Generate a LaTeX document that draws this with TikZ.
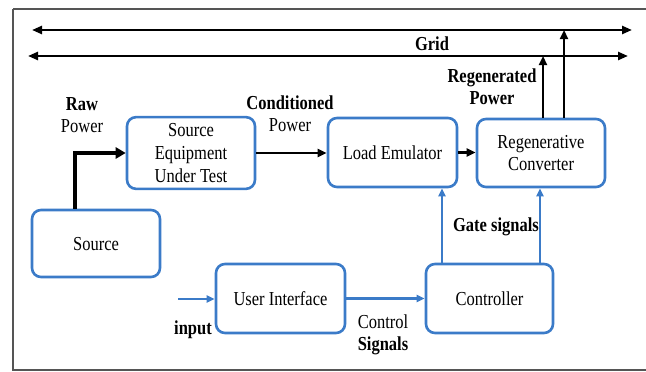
\documentclass[tikz,border=0pt]{standalone}
\usepackage{fontspec}
\setmainfont{Liberation Serif}
\usetikzlibrary{arrows.meta,calc}
\definecolor{boxblue}{HTML}{3B7BC8}
\definecolor{framegray}{HTML}{555555}
\newcommand{\tx}[1]{\raisebox{0pt}[\dimexpr\height+2pt\relax][\dimexpr\depth-2pt\relax]{\scalebox{1}[1.2]{\begin{tabular}{@{}c@{}}#1\end{tabular}}}}
\begin{document}
\begin{tikzpicture}[x=1pt,y=-1pt,
  font=\fontsize{16.5}{18.8}\selectfont,
  blk/.style={draw=boxblue,line width=2.6pt,rounded corners=9pt,inner sep=2pt},
  pw/.style={draw=black,line width=2.4pt,-{Triangle[length=9pt,width=8pt]}},
  raw/.style={draw=black,line width=4pt,-{Triangle[length=10pt,width=11pt]}},
  grid/.style={draw=black,line width=2.4pt,{Triangle[length=10pt,width=8pt]}-{Triangle[length=10pt,width=8pt]}},
  sig/.style={draw=boxblue,line width=2.2pt,-{Triangle[length=8pt,width=7pt]}},
  lbl/.style={inner sep=0pt}]
\useasboundingbox (0,0) rectangle (646,372);
\draw[framegray,line width=2pt] (13,9) -- (13,370) -- (660,370);
\draw[framegray,line width=1.2pt] (13,9) -- (660,9);

% grid lines
\coordinate (g1l) at (32,30);
\coordinate (g1r) at (632,30);
\coordinate (g2l) at (28,56);
\coordinate (g2r) at (628,56);
\draw[grid] (g1l) -- (g1r);
\draw[grid] (g2l) -- (g2r);
\node[lbl] (gridlbl) at (432,44) {\tx{\textbf{Grid}}};

% blocks
\node[blk,minimum width=128pt,minimum height=68pt] (seut) at (191,153) {\tx{Source\\Equipment\\Under Test}};
\node[blk,minimum width=128pt,minimum height=67pt] (src) at (96,243.5) {\tx{Source}};
\node[blk,minimum width=129pt,minimum height=69pt] (load) at (392.5,152.5) {\tx{Load Emulator}};
\node[blk,minimum width=128pt,minimum height=68pt] (regen) at (541,153) {\tx{Regenerative\\Converter}};
\node[blk,minimum width=129pt,minimum height=69pt] (ui) at (280.5,298.5) {\tx{User Interface}};
\node[blk,minimum width=127pt,minimum height=69pt] (ctrl) at (489.5,298.5) {\tx{Controller}};

% power flow
\coordinate (rawx) at (75,0);
\draw[raw] (src.north -| rawx) |- (seut.west);
\draw[pw] (seut.east) -- (load.west |- seut.east);
\draw[pw] (load.east) -- (regen.west |- load.east);
\coordinate (upa) at (543,0);
\coordinate (upb) at (564,0);
\draw[pw] (regen.north -| upa) -- (upa |- g2l);
\draw[pw] (regen.north -| upb) -- (upb |- g1l);

% signals
\coordinate (gatea) at (442,0);
\coordinate (gateb) at (540,0);
\draw[sig] (ctrl.north -| gatea) -- (load.south -| gatea);
\draw[sig] (ctrl.north -| gateb) -- (regen.south -| gateb);
\coordinate (inp) at (178,299);
\draw[sig] (inp) -- (ui.west |- inp);
\draw[sig] (ui.east) -- (ctrl.west |- ui.east);

% labels
\node[lbl] (rawlbl) at (82,115) {\tx{\textbf{Raw}\\Power}};
\node[lbl] (condlbl) at (290,114) {\tx{\textbf{Conditioned}\\Power}};
\node[lbl] (regenlbl) at (492,87) {\tx{\textbf{Regenerated}\\\textbf{Power}}};
\node[lbl] (gatelbl) at (496,225) {\tx{\textbf{Gate signals}}};
\node[lbl] (inlbl) at (193,328) {\tx{\textbf{input}}};
\node[lbl] (ctllbl) at (383,333) {\tx{Control\\\textbf{Signals}}};
\end{tikzpicture}
\end{document}
